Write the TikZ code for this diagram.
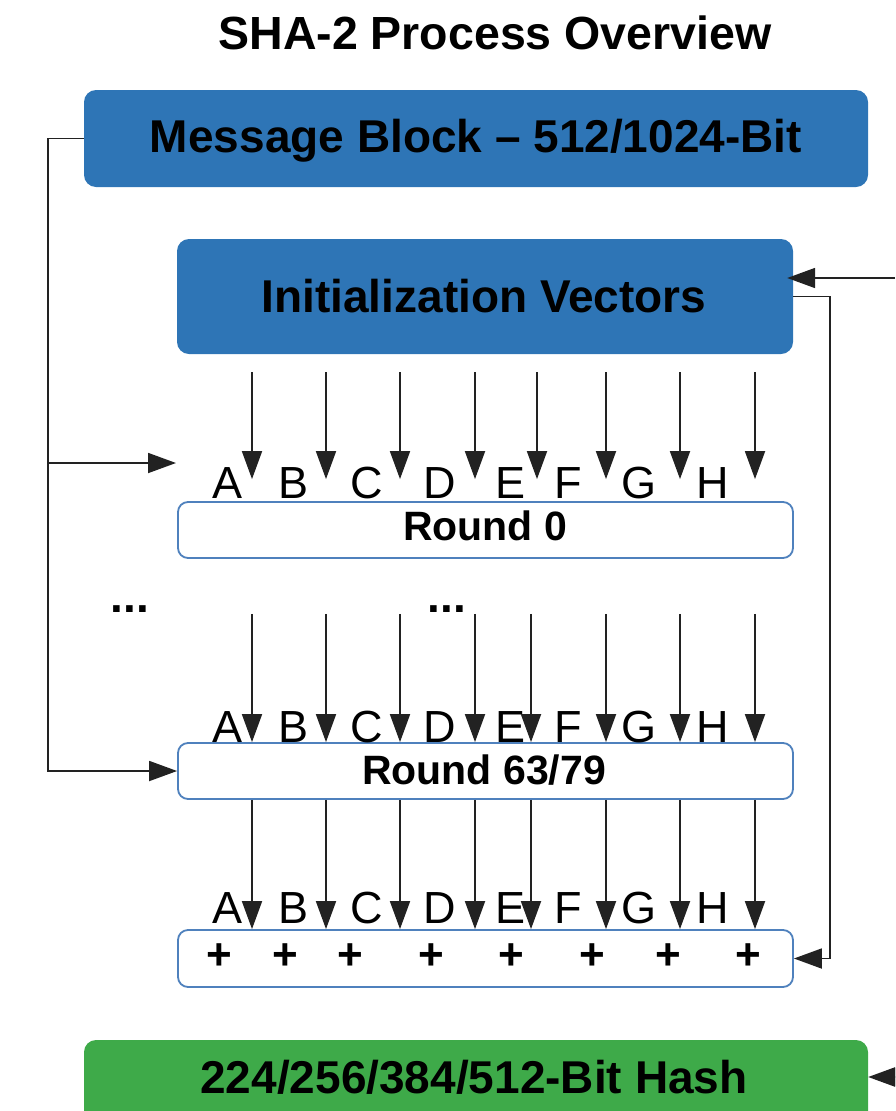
\documentclass[tikz,border=0pt]{standalone}
\usepackage{fontspec}
\setmainfont{Liberation Sans}
\usetikzlibrary{arrows.meta,calc}
\definecolor{boxblue}{RGB}{46,117,182}
\definecolor{boxgreen}{RGB}{62,170,73}
\definecolor{roundline}{RGB}{79,129,189}
\definecolor{linecol}{RGB}{34,34,34}
\newcommand\setfs[1]{\fontsize{#1}{#1}\selectfont}
\begin{document}
\begin{tikzpicture}[x=1pt,y=-1pt,
  bluebox/.style={fill=boxblue, draw=none, rounded corners=12pt, inner sep=0pt},
  greenbox/.style={fill=boxgreen, draw=none, rounded corners=12pt, inner sep=0pt},
  roundbox/.style={fill=white, draw=roundline, line width=1.8pt, rounded corners=10pt, inner sep=0pt,
    minimum width=615pt},
  bigtxt/.style={anchor=base, inner sep=0pt, font=\setfs{46}\bfseries},
  roundtxt/.style={anchor=base, inner sep=0pt, font=\setfs{41}\bfseries},
  lettertxt/.style={anchor=base, inner sep=0pt, font=\setfs{45}},
  plustxt/.style={inner sep=0pt, font=\setfs{44}\bfseries},
  conn/.style={draw=linecol, line width=1.8pt},
  arr/.style={conn, -{Triangle[length=28pt,width=20pt]}}
]
\useasboundingbox (0,0) rectangle (895,1111);
\clip (0,0) rectangle (895,1111);

% title
\node[bigtxt, font=\setfs{46.5}\bfseries] (title) at (495,49) {SHA-2 Process Overview};

% boxes
\node[bluebox, minimum width=784pt, minimum height=97pt] (MB) at (476,138.5) {};
\node[bigtxt] (MBt) at (476,152) {Message Block – 512/1024-Bit};

\node[bluebox, minimum width=616pt, minimum height=115pt] (IV) at (485,296.5) {};
\node[bigtxt] (IVt) at (484,312) {Initialization Vectors};

\node[roundbox, minimum height=56pt] (R0) at (485.5,530) {};
\node[roundtxt] (R0t) at (485,540) {Round 0};

\node[roundbox, minimum height=56pt] (R63) at (485.5,771) {};
\node[roundtxt] (R63t) at (484,784) {Round 63/79};

\node[roundbox, minimum height=57pt] (FIN) at (485.5,958.5) {};

\node[greenbox, minimum width=784pt, minimum height=100pt] (HASH) at (476,1090) {};
\node[bigtxt] (HASHt) at (474,1093) {224/256/384/512-Bit Hash};

% ellipses
\node[bigtxt] (dotsL) at (130,612) {...};
\node[bigtxt] (dotsM) at (447,612) {...};

% column coordinates
\foreach \x [count=\i] in {252,326,400,475,537,606,680,755}
  \coordinate (ca\i) at (\x,0);
\foreach \x [count=\i] in {252,326,400,475,531,606,680,755}
  \coordinate (cb\i) at (\x,0);

% letters
\foreach \l/\x in {A/228,B/294,C/367,D/440,E/511,F/568,G/639,H/713}{
  \node[lettertxt] (r1\l) at (\x,498) {\l};
  \node[lettertxt] (r2\l) at (\x,742) {\l};
  \node[lettertxt] (r3\l) at (\x,923) {\l};
}

% plus signs
\foreach \x [count=\i] in {219,285,350,431,511,592,668,748}
  \node[plustxt] (p\i) at (\x,957) {+};

% vertical arrows
\foreach \i in {1,...,8}{
  \draw[arr] ($(IV.south -| ca\i)+(0,18)$) -- ($(R0.north -| ca\i)+(0,-22)$);
  \draw[arr] ($(R0.south -| cb\i)+(0,55)$) -- (R63.north -| cb\i);
  \draw[arr] (R63.south -| cb\i) -- (FIN.north -| cb\i);
}

% left feed from message block
\coordinate (lb) at (48,463);
\coordinate (lbt) at (176,463);
\draw[arr] (MB.west) -- ++(-36,0) |- (R63.west);
\draw[arr] (lb) -- (lbt);

% right side
\coordinate (ivin) at (895,278);
\draw[arr] (ivin) -- ($(IV.east |- ivin)+(-6,0)$);
\draw[arr] (IV.east) -- ++(37,0) |- (FIN.east);
\coordinate (hin) at (895,1077);
\draw[arr] (hin) -- (HASH.east |- hin);
\end{tikzpicture}
\end{document}
